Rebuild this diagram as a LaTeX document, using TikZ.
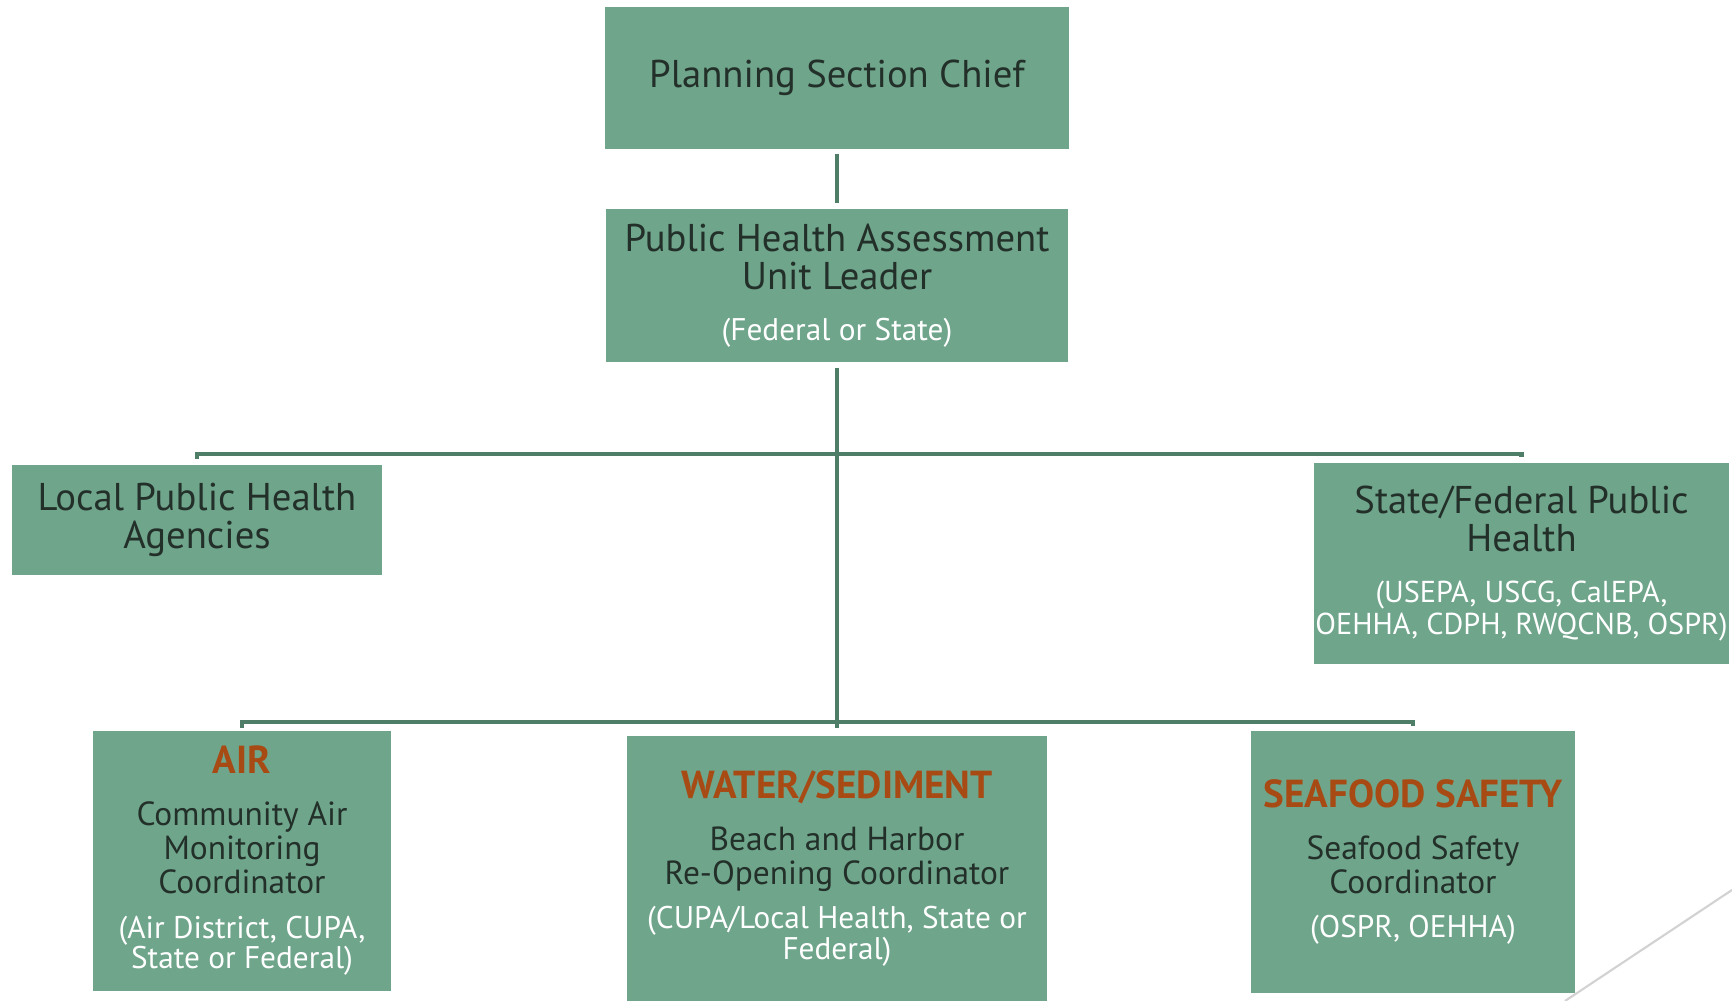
\documentclass[tikz,border=0pt]{standalone}
\usepackage{fontspec}
\setmainfont{PT Sans}
\usetikzlibrary{positioning,calc}
\definecolor{boxgreen}{RGB}{111,165,139}
\definecolor{linegreen}{RGB}{78,126,104}
\definecolor{headorange}{RGB}{168,74,20}
\definecolor{darktext}{RGB}{35,48,42}
\tikzstyle{block} = [fill=boxgreen, rectangle, align=center, text=darktext,
    inner sep=0pt, font=\fontsize{11.0}{10.8}\selectfont]
\tikzstyle{role} = [block, font=\fontsize{9.5}{9.6}\selectfont]
\tikzstyle{line} = [draw=linegreen, line width=1.4pt]
\newcommand{\headtxt}[1]{{\color{headorange}\bfseries\fontsize{11.1}{11.1}\selectfont #1}}
\newcommand{\subtxt}[1]{{\color{white}\fontsize{8.9}{8.9}\selectfont #1}}

\begin{document}
\begin{tikzpicture}[x=0.01cm, y=-0.01cm]
    \useasboundingbox (0,0) rectangle (1732,1001);
    % Top of the chart
    \node [block, minimum width=4.63cm, minimum height=1.42cm] (chief) at (837,78)
        {Planning Section Chief};
    \node [block, minimum width=4.62cm, minimum height=1.53cm] (unit) at (837,285.5)
        {Public Health Assessment\\Unit Leader\\[3.7pt]\subtxt{(Federal or State)}};

    % Second row
    \node [block, minimum width=3.70cm, minimum height=1.10cm] (local) at (197,520)
        {Local Public Health\\Agencies};
    \node [block, minimum width=4.15cm, minimum height=2.01cm] (state) at (1521.5,563.5)
        {State/Federal Public\\Health\\[3.7pt]{\subtxt{\fontsize{8.6}{8.6}\selectfont(USEPA, USCG, CalEPA,}}\\[-1.7pt]{\subtxt{\fontsize{8.6}{8.6}\selectfont OEHHA, CDPH, RWQCNB, OSPR)}}};

    % Bottom row
    \node [role, minimum width=2.98cm, minimum height=2.59cm] (air) at (242,861)
        {\headtxt{AIR}\\[5.2pt]Community Air\\Monitoring\\Coordinator\\[3.1pt]\subtxt{(Air District, CUPA,}\\[-0.8pt]\subtxt{State or Federal)}};
    \node [role, minimum width=4.19cm, minimum height=2.65cm] (water) at (837,868.5)
        {\headtxt{WATER/SEDIMENT}\\[5.2pt]Beach and Harbor\\Re-Opening Coordinator\\[3.1pt]\subtxt{(CUPA/Local Health, State or}\\[-0.8pt]\subtxt{Federal)}};
    \node [role, minimum width=3.24cm, minimum height=2.62cm] (seafood) at (1413,862)
        {\headtxt{SEAFOOD SAFETY}\\[5.2pt]Seafood Safety\\Coordinator\\[3.1pt]\subtxt{(OSPR, OEHHA)}};

    % Branch points
    \coordinate (upbus) at (837,454);
    \coordinate (lowbus) at (837,722);

    % Connectors
    \draw [line, shorten <=0.04cm, shorten >=0.05cm] (chief) -- (unit);
    \draw [line, shorten <=0.05cm, shorten >=0.07cm] (unit.south) -- (water.north);
    \draw [line, shorten >=0.05cm] (upbus) -| (local.north);
    \draw [line, shorten >=0.05cm] (upbus) -| (state.north);
    \draw [line, shorten >=0.03cm] (lowbus) -| (air.north);
    \draw [line, shorten >=0.04cm] (lowbus) -| (seafood.north);

    % slide decoration
    \draw [gray!35, line width=0.6pt] (1732,890) -- (1565,1001);
\end{tikzpicture}
\end{document}
